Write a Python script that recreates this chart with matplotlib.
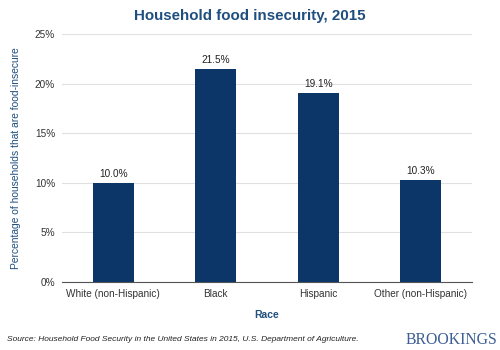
import matplotlib
matplotlib.use("Agg")
import matplotlib.pyplot as plt

# Household food insecurity by race, 2015
races = ["White (non-Hispanic)", "Black", "Hispanic", "Other (non-Hispanic)"]
rates = [10.0, 21.5, 19.1, 10.3]
yticks = [0, 5, 10, 15, 20, 25]

plt.rcParams["font.family"] = ["Liberation Sans", "DejaVu Sans"]
navy = "#0c3668"
title_blue = "#1f4e7f"

fig = plt.figure(figsize=(5, 3.5), dpi=100)
ax = fig.add_axes([0.124, 0.194, 0.82, 0.709])

x = range(len(races))
bars = ax.bar(x, rates, width=0.4, color=navy, zorder=3)
for xi, v in zip(x, rates):
    ax.text(xi, v + 0.4, f"{v:.1f}%", ha="center", va="bottom", fontsize=7.2, color="#222222")

ax.set_xlim(-0.5, 3.5)
ax.set_ylim(0, 25)
ax.set_yticks(yticks)
ax.set_yticklabels([f"{t}%" for t in yticks])
ax.set_xticks(list(x))
ax.set_xticklabels(races)
ax.tick_params(axis="both", length=0, labelsize=7.2, colors="#333333", pad=5)
ax.grid(axis="y", color="#e0e0e0", linewidth=0.8, zorder=0)
for s in ["top", "right", "left"]:
    ax.spines[s].set_visible(False)
ax.spines["bottom"].set_color("#555555")
ax.spines["bottom"].set_linewidth(0.8)

ax.set_xlabel("Race", fontsize=7.5, fontweight="bold", color=title_blue, labelpad=8)
ax.set_ylabel("Percentage of households that are food-insecure", fontsize=7.4,
              color=title_blue, labelpad=10)

fig.text(0.5, 0.953, "Household food insecurity, 2015", ha="center", va="center",
         fontsize=10.9, fontweight="bold", color=title_blue)
fig.text(0.014, 0.03, "Source: Household Food Security in the United States in 2015, U.S. Department of Agriculture.",
         ha="left", va="center", fontsize=6, style="italic", color="#222222")
fig.text(0.994, 0.03, "BROOKINGS", ha="right", va="center", fontsize=11.3,
         family="Liberation Serif", color="#3d5f96")

fig.savefig("out.png", dpi=100)
